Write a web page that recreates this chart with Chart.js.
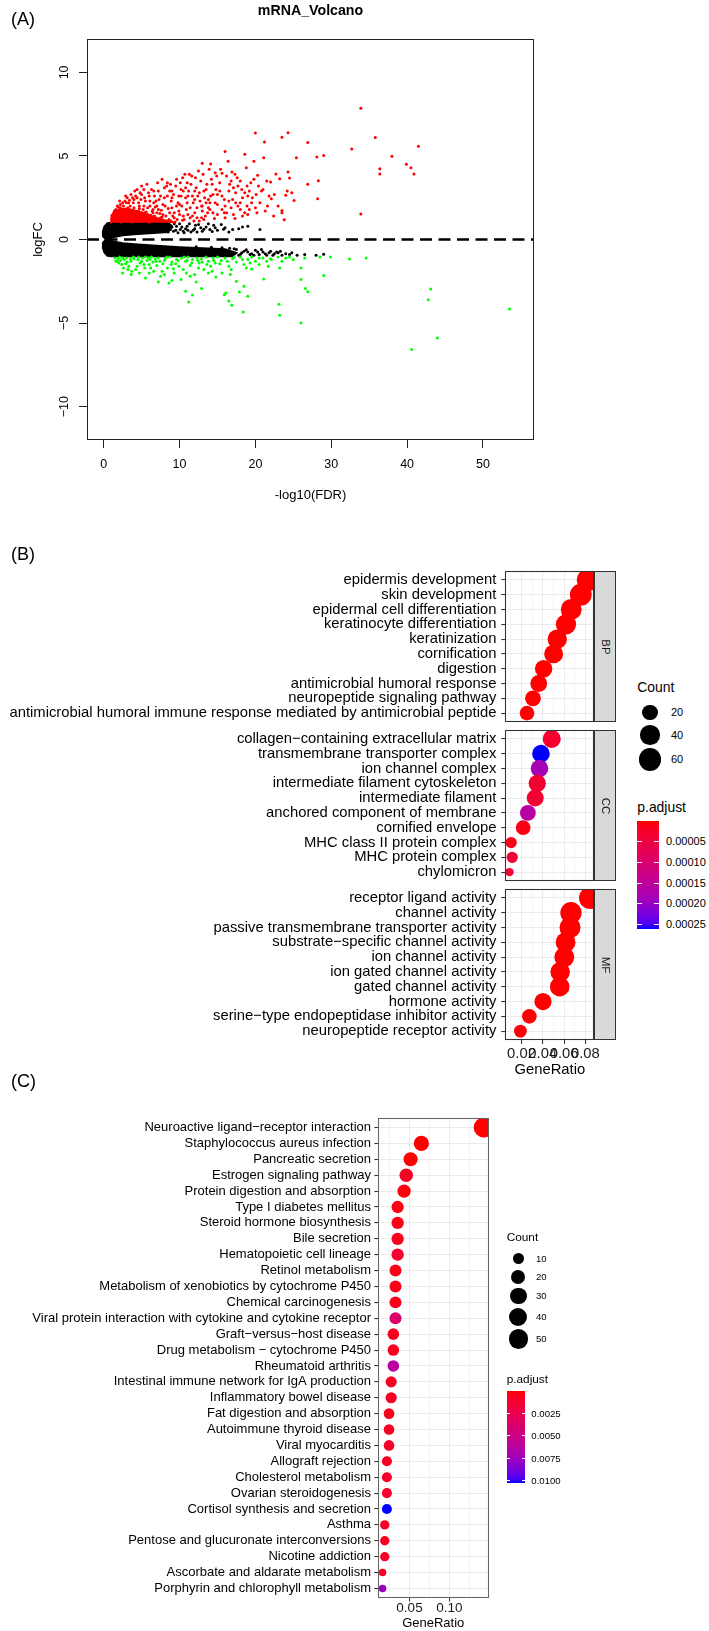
<!DOCTYPE html>
<html>
<head>
<meta charset="utf-8">
<title>Figure</title>
<script src="https://cdn.jsdelivr.net/npm/chart.js@4.4.1/dist/chart.umd.min.js"></script>
<style>
  html, body { margin:0; padding:0; background:#ffffff; }
  body { position:relative; width:709px; height:1631px; overflow:hidden; font-family:"Liberation Sans", Arial, Helvetica, sans-serif; }
  canvas { position:absolute; }
  .t { position:absolute; white-space:nowrap; line-height:1; }
  .strip { position:absolute; box-sizing:border-box; background:#d9d9d9; border:1px solid #333333; }
  .strip span { position:absolute; left:50%; top:50%; transform:translate(-50%,-50%) rotate(90deg); font-size:11.5px; color:#1a1a1a; line-height:1; white-space:nowrap; }
  .dot { position:absolute; border-radius:50%; background:#000; }
  .bar { position:absolute; }
  .tk { position:absolute; background:#ffffff; height:1px; }
</style>
</head>
<body>
<canvas id="cA" width="709" height="510" style="left:0;top:0"></canvas>
<canvas id="cBP" width="615" height="191" style="left:0;top:551px"></canvas>
<canvas id="cCC" width="615" height="191" style="left:0;top:710px"></canvas>
<canvas id="cMF" width="615" height="211" style="left:0;top:869px"></canvas>
<canvas id="cK" width="600" height="531" style="left:0;top:1100px"></canvas>
<script>
// ===================== DATA =====================
// ---- Panel A : volcano ----
const volcanoXTicks = [0, 10, 20, 30, 40, 50];
const volcanoYTicks = [-10, -5, 0, 5, 10];
const volcanoXRange = [-2.2, 56.73];
const volcanoYRange = [-12, 12];
// up-regulated (red) genes: [-log10(FDR), logFC]
const volcanoUp = [
 [33.9,7.86],[20.0,6.38],[24.3,6.39],[23.5,6.12],[35.8,6.1],[21.2,5.84],[26.9,5.8],[41.5,5.58],[32.7,5.42],[16.0,5.26],
 [18.6,5.1],[38.0,4.98],[21.1,4.9],[25.4,4.9],[28.1,4.94],[29.0,5.02],[36.4,4.24],[36.4,3.92],[39.9,4.5],[40.5,4.3],
 [40.9,3.92],[33.9,1.52],[13.0,4.56],[14.1,4.52],[16.4,4.68],[18.8,4.3],[19.8,4.68],[14.7,4.0],[15.6,3.96],[16.9,4.04],
 [17.3,3.9],[22.7,3.92],[24.3,4.04],[23.2,3.64],[20.3,3.84],[24.5,3.68],[26.9,3.3],[28.3,3.52],[22.0,3.44],[24.2,2.9],
 [24.8,2.8],[24.0,2.65],[25.1,2.34],[28.2,2.44],[22.1,2.44],[21.6,2.0],[23.5,1.74],[23.5,1.6],[23.8,1.18],[17.3,1.26],
 [5.2,1.1],[5.5,1.4],[5.8,1.9],[6.1,2.3],[6.4,1.2],[6.7,2.6],[7.0,1.6],[7.2,2.9],[7.5,1.3],[7.8,2.1],
 [8.0,3.1],[5.4,2.5],[6.0,1.05],[6.9,1.15],[7.6,1.75],[8.2,1.4],[5.9,2.8],[7.3,2.4],[6.5,1.8],[8.4,2.6],
 [8.6,1.2],[8.8,3.3],[9.0,1.9],[9.2,2.7],[9.4,1.05],[9.6,3.6],[9.8,2.2],[10.0,1.5],[10.2,3.0],[10.4,3.7],
 [10.6,1.2],[10.8,2.5],[11.0,3.4],[9.1,1.4],[10.3,2.0],[8.9,2.3],[9.7,1.2],[10.9,1.8],[11.2,2.9],[11.4,1.3],
 [11.6,3.8],[11.8,2.2],[12.0,1.6],[12.2,3.1],[12.4,2.6],[12.6,1.1],[12.8,3.5],[13.0,2.0],[13.2,2.9],[13.4,1.4],
 [13.6,3.3],[13.8,2.4],[14.0,1.8],[14.2,3.6],[14.4,2.7],[14.6,1.25],[14.8,3.0],[15.0,2.1],[12.5,4.1],[13.9,4.2],
 [11.3,3.9],[12.9,1.3],[15.3,3.4],[15.6,2.6],[15.9,1.6],[16.2,3.8],[16.5,2.3],[16.8,1.9],[17.1,3.1],[17.4,2.8],
 [17.7,2.0],[18.0,3.5],[18.3,2.5],[18.6,1.6],[18.9,3.2],[19.2,2.9],[19.5,2.2],[19.8,3.6],[20.1,2.7],[20.4,3.2],
 [16.0,1.3],[19.0,1.5],[20.6,2.2],[21.0,3.0],[21.5,3.5],[22.5,2.7],
 [1.2,1.1],[1.4,1.35],[1.6,1.55],[1.8,1.7],[2.0,1.2],[2.2,1.9],[2.4,1.45],[2.6,2.0],[2.8,1.15],[3.0,2.2],
 [3.2,1.7],[3.4,2.35],[3.6,1.3],[3.8,2.5],[4.0,1.9],[4.2,2.6],[4.4,1.1],[4.6,2.2],[4.8,2.8],[5.0,1.6],
 [2.1,1.6],[3.5,2.0],[4.5,1.5],[1.5,1.2],[2.7,1.7],[3.9,1.2],[4.9,2.4],[5.3,3.0],[4.1,2.9],[3.1,2.5],
 [2.5,2.2],[1.9,1.95],[1.3,1.25],[1.7,1.4],[2.3,1.3],[2.9,1.5],[3.3,1.15],[3.7,1.75],[4.3,1.35],[4.7,1.85],
 [5.1,1.25],[5.6,1.65],[6.2,1.45],[6.8,1.95],[7.4,1.55],[7.9,1.1],[8.5,1.85],[9.3,1.6],[9.9,2.6],[10.5,2.9],
 [11.1,1.5],[11.7,2.6],[12.3,1.9],[12.7,2.3],[13.3,2.5],[13.7,1.6],[2.2,2.1],[2.8,2.3],[3.6,2.7],[4.4,3.0],
 [5.0,3.2],[5.7,3.3],[6.3,3.0],[6.6,2.2],[7.1,3.4],[7.7,3.6],[8.3,3.2],[8.7,2.9],[9.5,3.2],[10.1,3.4],
 [10.7,3.9],[11.5,3.3],[12.1,3.7],[13.1,3.9],[13.5,3.0],[14.3,3.3],[14.9,3.8],[15.4,4.2],[16.6,3.3],[17.6,3.7],
 [18.2,3.0],[19.4,3.4],[4.0,2.4],[3.2,1.9],[2.0,1.5],[1.6,1.8],[6.0,2.6],[7.0,2.0],[8.0,2.5],[9.0,2.9],
 [10.0,2.1],[11.0,2.2],[12.0,2.9],[13.0,1.7],[14.0,2.2],[15.0,2.7],[16.0,2.0],[17.0,2.4],[18.0,1.8],[19.0,2.6],
 [20.0,1.9],[6.5,1.6],[5.3,2.0],[4.6,1.7],[3.8,1.4],[2.4,1.75],
 [1.4,1.7],[1.8,2.0],[2.1,2.3],[2.5,1.6],[2.9,2.6],[3.3,2.2],[3.5,1.55],[3.9,2.2],[4.2,1.25],[4.4,2.5],
 [4.7,2.0],[5.0,2.7],[5.2,1.8],[5.5,2.3],[5.8,1.5],[6.1,2.0],[6.3,1.3],[6.6,2.9],[6.9,2.3],[7.2,1.8],
 [7.5,2.6],[7.8,1.5],[8.1,2.0],[8.4,3.4],[8.7,1.6],[9.0,2.5],[9.3,1.3],[9.6,2.0],[9.9,1.7],[10.2,2.6],
 [10.5,1.4],[10.8,3.1],[11.1,2.6],[11.4,1.9],[11.7,1.4],[12.0,2.4],[12.3,1.3],[12.6,2.8],[12.9,2.0],[13.2,1.2],
 [13.5,2.2],[13.8,1.9],[14.1,2.6],[14.4,1.6],[14.7,2.2],[15.0,1.5],[15.3,2.9],[15.6,1.8],[15.9,2.4],[16.2,1.6],
 [16.5,2.9],[16.8,3.5],[17.1,1.5],[17.4,2.2],[17.7,3.2],[18.0,2.2],[18.3,1.4],[18.6,2.8],[18.9,2.0],[19.2,1.8],
 [19.6,2.5],[20.2,1.6],[20.8,2.9],[21.3,1.7],[21.8,2.6],[22.4,1.4],[23.0,2.0],[3.0,1.35],[2.6,1.25],[3.4,1.45],
 [4.8,1.2],[5.9,1.1],[6.7,1.4],[7.3,1.2],[8.9,1.1],[10.4,1.15],[11.9,1.1],[2.3,1.05],[3.7,1.05],[1.1,1.45],
 [1.3,1.55],[1.9,1.3],[4.1,1.65],[5.4,1.6],[6.4,1.7],[7.7,1.35]
];
// dense core of the red cloud (outline)
const upCore = [[1.05,1.0],[1.0,1.3],[1.3,1.6],[2.0,1.8],[3.0,1.85],[4.5,1.7],[6.0,1.45],[7.5,1.22],[9.0,1.05],[9.5,1.0]];
// down-regulated (green) genes
const volcanoDown = [
 [1.5,-1.1],[1.8,-1.3],[2.1,-1.05],[2.4,-1.5],[2.7,-1.2],[3.0,-1.1],[3.3,-1.6],[3.6,-1.3],[3.9,-1.05],[4.2,-1.8],
 [4.5,-1.2],[4.8,-1.4],[5.1,-1.1],[5.4,-1.7],[5.7,-1.25],[6.0,-1.5],[6.3,-1.05],[6.6,-1.9],[6.9,-1.3],[7.2,-1.1],
 [7.5,-2.2],[7.8,-1.45],[8.1,-1.15],[8.4,-1.7],[8.7,-1.05],[9.0,-1.35],[9.3,-2.0],[9.6,-1.2],[9.9,-1.6],[10.2,-1.1],
 [10.5,-1.8],[10.8,-1.3],[11.1,-1.05],[11.4,-1.55],[11.7,-1.2],[12.0,-2.1],[12.3,-1.1],[12.6,-1.4],[12.9,-1.15],[13.2,-1.8],
 [13.5,-1.05],[13.8,-1.3],[14.1,-1.6],[14.4,-1.1],[14.7,-1.4],[15.0,-1.05],[15.5,-1.25],[16.0,-1.1],[16.5,-1.6],[17.0,-1.15],
 [17.5,-1.35],[18.0,-1.05],[18.5,-1.5],[19.0,-1.2],[19.5,-1.05],[20.0,-1.3],[21.0,-1.1],[22.0,-1.15],[23.0,-1.05],[24.0,-1.1],
 [25.0,-1.2],[2.2,-1.25],[3.1,-1.35],[4.0,-1.15],[5.0,-1.3],[6.1,-1.2],[7.0,-1.55],[8.0,-1.25],[1.9,-1.15],[2.9,-1.45],
 [5.5,-1.05],[6.5,-1.35],[9.5,-1.45],[11.0,-1.25],[13.0,-1.35],[4.4,-1.6],[2.6,-1.7],[3.7,-1.9],
 [3.6,-2.1],[7.2,-2.54],[8.6,-2.6],[9.0,-2.45],[10.2,-2.4],[11.4,-2.2],[12.2,-2.55],[14.8,-2.24],[15.6,-2.0],[16.7,-2.1],
 [19.5,-1.76],[21.1,-2.36],[22.1,-1.2],[23.2,-1.7],[11.2,-3.74],[10.8,-3.1],[11.7,-3.32],[12.9,-2.94],[15.9,-3.3],[16.1,-3.2],
 [16.5,-3.68],[16.9,-3.94],[18.4,-4.34],[17.9,-3.14],[19.0,-3.4],[18.5,-2.8],[23.1,-3.88],[23.2,-4.54],[26.0,-5.0],[26.0,-2.4],
 [26.0,-1.7],[26.6,-2.94],[26.9,-3.12],[29.0,-2.16],[32.4,-1.16],[34.6,-1.1],[29.9,-1.04],[28.5,-1.05],[43.1,-2.96],[42.8,-3.6],
 [44.0,-5.9],[40.6,-6.58],[53.5,-4.16],[5.5,-2.3],[6.0,-2.0],[8.0,-2.1],[13.8,-2.0],[17.5,-2.5],[20.5,-1.5],
 [2.0,-1.4],[2.5,-1.1],[3.5,-1.15],[4.6,-1.05],[5.3,-1.5],[5.9,-1.1],[6.8,-1.15],[7.4,-1.3],[8.3,-1.05],[8.9,-1.5],
 [9.8,-1.25],[10.6,-1.05],[11.6,-1.4],[12.4,-1.25],[13.6,-1.5],[14.5,-1.25],[15.3,-1.45],[16.3,-1.3],[17.2,-1.05],[18.3,-1.2],
 [19.3,-1.4],[20.5,-1.1],[21.5,-1.3],[23.5,-1.3],[24.5,-1.05],[26.5,-1.1],[3.2,-1.8],[4.7,-2.0],[6.2,-1.7],[7.7,-1.9],
 [9.2,-1.75],[10.9,-2.0],[12.5,-1.7],[14.3,-1.9],[16.8,-1.8],[18.8,-1.7],[21.7,-1.6],[2.5,-2.0],[1.6,-1.3]
];
// not significant (black) genes, sparse parts
const volcanoNS = [
 [7.5,0.6],[8.0,0.9],[8.5,0.45],[9.0,0.75],[9.5,0.55],[10.0,0.95],[10.5,0.5],[11.0,0.8],[11.5,0.45],[12.0,0.65],
 [12.5,0.9],[13.0,0.5],[13.5,0.75],[14.0,0.6],[14.5,0.85],[15.0,0.55],[16.0,0.7],[17.0,0.6],[17.8,0.65],[19.0,0.8],
 [20.6,0.6],[9.8,0.4],[10.8,0.65],[12.3,0.45],[13.8,0.95],[9.3,0.95],[11.3,0.95],[12.8,0.7],[15.5,0.9],[16.5,0.45],
 [10.3,0.75],[11.8,0.55],[14.3,0.48],[9.6,0.8],[10.6,0.4],[8.8,0.6],[8.3,0.9],[9.2,0.5],[10.1,0.6],[11.1,0.55],
 [12.1,0.85],[13.2,0.62],[14.7,0.7],[15.8,0.62],[18.3,0.75],
 [17.5,-0.6],[18.0,-0.9],[18.5,-0.7],[19.0,-0.75],[19.5,-0.85],[20.0,-0.65],[20.5,-0.9],[21.0,-0.75],[21.5,-0.95],[22.0,-0.7],
 [22.5,-0.85],[23.0,-0.8],[23.5,-0.95],[24.0,-0.85],[24.5,-0.9],[25.5,-0.95],[26.5,-0.9],[28.0,-0.95],[29.0,-0.88],[18.2,-0.8],
 [19.3,-0.9],[20.3,-0.75],[21.3,-0.85],[22.3,-0.95],[23.3,-0.7],[17.8,-0.95],[19.8,-0.95],[20.8,-0.6],[21.8,-0.8],[22.8,-0.75],
 [24.8,-0.8],[18.8,-0.62],[17.2,-0.55],[16.6,-0.52],[15.6,-0.5],[14.2,-0.46],[12.2,-0.44]
];
// solid parts of the black cloud (outlines)
const nsCoreUpper = [[0.3,0.0],[-0.1,0.2],[-0.1,0.5],[0.1,0.78],[0.5,0.98],[1.0,1.0],[8.5,1.0],[9.0,0.8],[8.5,0.45],[6.0,0.37],[4.0,0.31],[2.5,0.25],[1.6,0.17],[1.0,0.08],[0.6,0.02]];
const nsCoreLower = [[0.3,0.0],[-0.1,-0.2],[-0.1,-0.5],[0.1,-0.78],[0.5,-0.98],[1.0,-1.0],[17.0,-1.0],[17.5,-0.8],[16.0,-0.58],[13.0,-0.52],[10.0,-0.46],[7.0,-0.38],[4.5,-0.3],[2.5,-0.22],[1.4,-0.13],[0.8,-0.05]];

// ---- Panel B : GO dotplot ----
const bpTerms = ["epidermis development","skin development","epidermal cell differentiation","keratinocyte differentiation","keratinization","cornification","digestion","antimicrobial humoral response","neuropeptide signaling pathway","antimicrobial humoral immune response mediated by antimicrobial peptide"];
const bpGeneRatio = [0.0826,0.0757,0.0667,0.0618,0.0536,0.0502,0.0408,0.0362,0.0308,0.0252];
const bpCount = [60,54,48,44,39,36,29,26,22,18];
const bpPadj = [1e-14,1e-13,2e-12,5e-12,1e-11,2e-11,3e-10,1e-9,1e-8,1e-7];

const ccTerms = ["collagen−containing extracellular matrix","transmembrane transporter complex","ion channel complex","intermediate filament cytoskeleton","intermediate filament","anchored component of membrane","cornified envelope","MHC class II protein complex","MHC protein complex","chylomicron"];
const ccGeneRatio = [0.0484,0.0383,0.0369,0.0348,0.0329,0.0260,0.0216,0.0103,0.0113,0.0087];
const ccCount = [32,30,29,28,27,22,18,10,10,8];
const ccPadj = [3.1e-5,2.62e-4,1.83e-4,3.2e-5,3.4e-5,1.62e-4,1.0e-5,1.3e-5,4.2e-5,3.1e-5];

const mfTerms = ["receptor ligand activity","channel activity","passive transmembrane transporter activity","substrate−specific channel activity","ion channel activity","ion gated channel activity","gated channel activity","hormone activity","serine−type endopeptidase inhibitor activity","neuropeptide receptor activity"];
const mfGeneRatio = [0.0845,0.0665,0.0656,0.0614,0.0602,0.0563,0.0559,0.0402,0.0274,0.0190];
const mfCount = [57,51,49,42,42,40,40,28,18,13];
const mfPadj = [1e-12,2e-10,2e-10,5e-10,5e-10,1e-9,1e-9,2e-7,1e-6,5e-6];

const goRatioMajor = [0.02, 0.04, 0.06, 0.08];
const goRatioMinor = [0.01, 0.03, 0.05, 0.07];
const goRatioRange = [0.0048, 0.0884];
const goCountBreaks = [20, 40, 60];
const goPadjBreaks = [0.00005, 0.00010, 0.00015, 0.00020, 0.00025];
const goPadjLabels = ["0.00005","0.00010","0.00015","0.00020","0.00025"];
const goFacets = ["BP","CC","MF"];

// ---- Panel C : KEGG dotplot ----
const keggTerms = ["Neuroactive ligand−receptor interaction","Staphylococcus aureus infection","Pancreatic secretion","Estrogen signaling pathway","Protein digestion and absorption","Type I diabetes mellitus","Steroid hormone biosynthesis","Bile secretion","Hematopoietic cell lineage","Retinol metabolism","Metabolism of xenobiotics by cytochrome P450","Chemical carcinogenesis","Viral protein interaction with cytokine and cytokine receptor","Graft−versus−host disease","Drug metabolism − cytochrome P450","Rheumatoid arthritis","Intestinal immune network for IgA production","Inflammatory bowel disease","Fat digestion and absorption","Autoimmune thyroid disease","Viral myocarditis","Allograft rejection","Cholesterol metabolism","Ovarian steroidogenesis","Cortisol synthesis and secretion","Asthma","Pentose and glucuronate interconversions","Nicotine addiction","Ascorbate and aldarate metabolism","Porphyrin and chlorophyll metabolism"];
const keggGeneRatio = [0.1432,0.0649,0.0514,0.0459,0.0432,0.0351,0.0351,0.0351,0.0351,0.0324,0.0324,0.0324,0.0324,0.0297,0.0297,0.0297,0.0270,0.0270,0.0243,0.0243,0.0243,0.0216,0.0216,0.0216,0.0216,0.0189,0.0189,0.0189,0.0162,0.0162];
const keggCount = [53,24,19,17,16,13,13,13,13,12,12,12,12,11,11,11,10,10,9,9,9,8,8,8,8,7,7,7,6,6];
const keggPadj = [1e-10,1e-6,2e-5,0.0009,0.0002,0.0003,0.0004,0.0006,0.0012,0.0004,0.0004,0.0005,0.0038,0.0006,0.0007,0.0062,0.0007,0.0009,0.0005,0.0008,0.0011,0.0008,0.0011,0.0012,0.0103,0.0009,0.0007,0.0008,0.0007,0.0077];
const keggRatioMajor = [0.05, 0.10];
const keggRatioMinor = [0.025, 0.075, 0.125];
const keggRatioRange = [0.01018, 0.1495];
const keggCountBreaks = [10, 20, 30, 40, 50];
const keggPadjBreaks = [0.0025, 0.0050, 0.0075, 0.0100];
const keggPadjLabels = ["0.0025","0.0050","0.0075","0.0100"];

// ===================== HELPERS =====================
const FONT = '"Liberation Sans", Arial, Helvetica, sans-serif';
Chart.defaults.font.family = FONT;
Chart.defaults.color = '#000';

const framePlugin = {
  id: 'frame',
  afterDatasetsDraw(chart, args, opts) {
    if (!opts || !opts.color) return;
    const a = chart.chartArea, ctx = chart.ctx;
    ctx.save();
    ctx.strokeStyle = opts.color; ctx.lineWidth = opts.width || 1;
    const l = Math.round(a.left) + 0.5, t = Math.round(a.top) + 0.5;
    const r = Math.round(a.right) - 0.5, b = Math.round(a.bottom) - 0.5;
    ctx.strokeRect(l, t, r - l, b - t);
    ctx.restore();
  }
};
Chart.register(framePlugin);

// CIELAB gradient red -> blue (as ggplot's scale_color_continuous(low="red", high="blue"))
function lin(c){ c/=255; return c<=0.04045? c/12.92 : Math.pow((c+0.055)/1.055,2.4); }
function rgb2lab(r,g,b){
  const R=lin(r),G=lin(g),B=lin(b);
  const X=(R*0.4124+G*0.3576+B*0.1805)/0.95047, Y=(R*0.2126+G*0.7152+B*0.0722), Z=(R*0.0193+G*0.1192+B*0.9505)/1.08883;
  const f=t=> t>0.008856? Math.cbrt(t) : 7.787*t+16/116;
  const fx=f(X),fy=f(Y),fz=f(Z);
  return [116*fy-16, 500*(fx-fy), 200*(fy-fz)];
}
function lab2rgb(L,a,b){
  const fy=(L+16)/116, fx=fy+a/500, fz=fy-b/200;
  const fi=t=> t*t*t>0.008856? t*t*t : (t-16/116)/7.787;
  const X=fi(fx)*0.95047, Y=fi(fy), Z=fi(fz)*1.08883;
  const R=3.2406*X-1.5372*Y-0.4986*Z, G=-0.9689*X+1.8758*Y+0.0415*Z, B=0.0557*X-0.2040*Y+1.0570*Z;
  const g=c=>{ c=Math.max(0,Math.min(1,c)); return Math.round(255*(c<=0.0031308? 12.92*c : 1.055*Math.pow(c,1/2.4)-0.055)); };
  return 'rgb('+g(R)+','+g(G)+','+g(B)+')';
}
const LAB_LO = rgb2lab(255,0,0), LAB_HI = rgb2lab(0,0,255);
function ramp(t){
  t=Math.max(0,Math.min(1,t));
  return lab2rgb(LAB_LO[0]+(LAB_HI[0]-LAB_LO[0])*t, LAB_LO[1]+(LAB_HI[1]-LAB_LO[1])*t, LAB_LO[2]+(LAB_HI[2]-LAB_LO[2])*t);
}
// size scale (area palette, range 3..8)
function sizePx(c, cmin, cmax, k){ return k*(3 + 5*Math.sqrt(Math.max(0,(c-cmin)/(cmax-cmin)))); }

function txt(s, x, cy, fs, o){
  o = o || {};
  const d=document.createElement('div'); d.className='t'; d.textContent=s;
  d.style.fontSize=fs+'px';
  d.style.top=(cy-(o.k!==undefined?o.k:0.49)*fs)+'px';
  if(o.align==='center'){ d.style.left=(x-200)+'px'; d.style.width='400px'; d.style.textAlign='center'; }
  else d.style.left=x+'px';
  if(o.bold) d.style.fontWeight='bold';
  d.style.color=o.color||'#000';
  document.body.appendChild(d);
}
function xy(arr){ return arr.map(p=>({x:p[0], y:p[1]})); }

// ===================== PANEL A =====================
txt('(A)', 11, 20.7, 18, {k:0.586});
txt('mRNA_Volcano', 310.5, 9.5, 14.2, {align:'center', bold:true});

new Chart(document.getElementById('cA'), {
  type:'scatter',
  data:{ datasets:[
    { type:'line', data:[{x:volcanoXRange[0],y:0},{x:volcanoXRange[1],y:0}], borderColor:'#000', borderWidth:2.6, borderDash:[12,6.5], pointRadius:0, fill:false, clip:0 },
    { data:xy(volcanoDown), backgroundColor:'#00ff00', borderWidth:0, pointRadius:1.5, clip:0 },
    { data:xy(volcanoUp), backgroundColor:'#ff0000', borderWidth:0, pointRadius:1.5, clip:0 },
    { type:'line', data:xy(upCore), borderColor:'#ff0000', backgroundColor:'#ff0000', borderWidth:2, pointRadius:0, fill:'shape', tension:0, clip:0 },
    { data:xy(volcanoNS), backgroundColor:'#000', borderWidth:0, pointRadius:1.5, clip:0 },
    { type:'line', data:xy(nsCoreUpper), borderColor:'#000', backgroundColor:'#000', borderWidth:2, pointRadius:0, fill:'shape', tension:0, clip:0 },
    { type:'line', data:xy(nsCoreLower), borderColor:'#000', backgroundColor:'#000', borderWidth:2, pointRadius:0, fill:'shape', tension:0, clip:0 }
  ]},
  options:{
    responsive:false, animation:false, events:[], devicePixelRatio:1,
    layout:{ padding:{ left:0, top:39, right:175, bottom:0 } },
    plugins:{ legend:{display:false}, tooltip:{enabled:false}, frame:{color:'#222', width:1} },
    scales:{
      x:{ type:'linear', min:volcanoXRange[0], max:volcanoXRange[1],
        afterBuildTicks:s=>{ s.ticks=volcanoXTicks.map(v=>({value:v})); },
        afterFit:s=>{ s.height=70; },
        ticks:{ font:{size:12.5, lineHeight:1}, color:'#000', padding:10, maxRotation:0, minRotation:0, autoSkip:false, callback:v=>String(v) },
        grid:{ drawOnChartArea:false, drawTicks:true, tickLength:8, tickColor:'#222', tickWidth:1 },
        border:{ display:false },
        title:{ display:true, text:'-log10(FDR)', font:{size:13}, color:'#000', padding:{top:0, bottom:7.2} }
      },
      y:{ type:'linear', min:volcanoYRange[0], max:volcanoYRange[1],
        afterBuildTicks:s=>{ s.ticks=volcanoYTicks.map(v=>({value:v})); },
        afterFit:s=>{ s.width=87; },
        ticks:{ font:{size:12.5, lineHeight:1}, color:'#000', padding:4, minRotation:90, maxRotation:90, crossAlign:'center', autoSkip:false, callback:v=> v<0 ? '−'+Math.abs(v) : String(v) },
        grid:{ drawOnChartArea:false, drawTicks:true, tickLength:8, tickColor:'#222', tickWidth:1 },
        border:{ display:false },
        title:{ display:true, text:'logFC', font:{size:13}, color:'#000', padding:{top:30.7, bottom:0} }
      }
    }
  }
});

// ===================== PANEL B =====================
txt('(B)', 11, 556, 18, {k:0.586});
const goAllCount = bpCount.concat(ccCount, mfCount);
const goAllPadj = bpPadj.concat(ccPadj, mfPadj);
const goCmin = Math.min(...goAllCount), goCmax = Math.max(...goAllCount);
const goPmin = Math.min(...goAllPadj), goPmax = Math.max(...goAllPadj);
const GO_K = 2.825;
const goDiam = c => sizePx(c, goCmin, goCmax, GO_K);
const goColor = p => ramp((p-goPmin)/(goPmax-goPmin));

function goFacet(id, terms, ratio, count, padj, withAxis, facetTop, facetBottom, label){
  const cv = document.getElementById(id);
  const W = cv.width;
  const top = parseFloat(cv.style.top);
  const xH = withAxis ? 40 : 20;
  new Chart(cv, {
    type:'bubble',
    data:{ datasets:[{ data: terms.map((t,i)=>({x:ratio[i], y:i+1, r:goDiam(count[i])/2})),
      backgroundColor: padj.map(goColor), borderWidth:0, hoverBorderWidth:0, clip:0 }]},
    options:{
      responsive:false, animation:false, events:[], devicePixelRatio:1,
      layout:{ padding:{ left:0, top:facetTop-top, right:W-594.3, bottom:0 } },
      plugins:{ legend:{display:false}, tooltip:{enabled:false}, frame:{color:'#333', width:1.07} },
      scales:{
        x:{ type:'linear', min:goRatioRange[0], max:goRatioRange[1],
          afterBuildTicks:s=>{ s.ticks=goRatioMinor.concat(goRatioMajor).sort((a,b)=>a-b).map(v=>({value:v})); },
          afterFit:s=>{ s.height=xH; },
          ticks:{ display:withAxis, font:{size:14.8, lineHeight:1}, color:'#1a1a1a', padding:2.6, maxRotation:0, minRotation:0, autoSkip:false,
            callback:v=> goRatioMajor.includes(v) ? v.toFixed(2) : '' },
          grid:{ color:'#ebebeb', lineWidth:c=> goRatioMajor.includes(c.tick.value)?1.07:0.53, drawTicks:withAxis, tickLength:4,
            tickColor:c=> goRatioMajor.includes(c.tick.value)?'#333':'rgba(0,0,0,0)', tickWidth:1.07 },
          border:{ display:false },
          title:{ display:withAxis, text:'GeneRatio', font:{size:14.8}, color:'#000', padding:{top:0, bottom:1.1} }
        },
        y:{ type:'linear', min:0.4, max:terms.length+0.6, reverse:true,
          afterBuildTicks:s=>{ s.ticks=terms.map((t,i)=>({value:i+1})); },
          afterFit:s=>{ s.width=505.3; },
          ticks:{ font:{size:14.8, lineHeight:1}, color:'#000', padding:4.9, autoSkip:false, callback:v=>terms[Math.round(v)-1] },
          grid:{ color:'#ebebeb', lineWidth:1.07, tickLength:4, tickColor:'#333', tickWidth:1.07 },
          border:{ display:false }
        }
      }
    }
  });
  const st=document.createElement('div'); st.className='strip';
  st.style.left='594.3px'; st.style.width='21.7px'; st.style.top=facetTop+'px'; st.style.height=(facetBottom-facetTop)+'px';
  const sp=document.createElement('span'); sp.textContent=label; st.appendChild(sp);
  document.body.appendChild(st);
}
goFacet('cBP', bpTerms, bpGeneRatio, bpCount, bpPadj, false, 571, 722, goFacets[0]);
goFacet('cCC', ccTerms, ccGeneRatio, ccCount, ccPadj, false, 730, 881, goFacets[1]);
goFacet('cMF', mfTerms, mfGeneRatio, mfCount, mfPadj, true, 889, 1040, goFacets[2]);

function sizeLegend(x0, titleY, titleFs, cx, ys, breaks, diamFn, labX, labFs){
  txt('Count', x0, titleY, titleFs);
  breaks.forEach((b,i)=>{
    const d=diamFn(b); const e=document.createElement('div'); e.className='dot';
    e.style.width=d+'px'; e.style.height=d+'px'; e.style.left=(cx-d/2)+'px'; e.style.top=(ys[i]-d/2)+'px';
    document.body.appendChild(e);
    txt(String(b), labX, ys[i], labFs);
  });
}
function colorLegend(x0, titleY, titleFs, barW, barTop, barBot, pmin, pmax, breaks, labels, labX, labFs){
  txt('p.adjust', x0, titleY, titleFs);
  const bar=document.createElement('div'); bar.className='bar';
  const stops=[]; for(let i=0;i<=30;i++){ stops.push(ramp(i/30)+' '+(i/30*100).toFixed(2)+'%'); }
  bar.style.left=x0+'px'; bar.style.top=barTop+'px'; bar.style.width=barW+'px'; bar.style.height=(barBot-barTop)+'px';
  bar.style.background='linear-gradient(to bottom,'+stops.join(',')+')';
  document.body.appendChild(bar);
  breaks.forEach((b,i)=>{
    const y=barTop+(b-pmin)/(pmax-pmin)*(barBot-barTop);
    [x0, x0+barW-barW/5].forEach(xx=>{ const tk=document.createElement('div'); tk.className='tk';
      tk.style.left=xx+'px'; tk.style.width=(barW/5)+'px'; tk.style.top=(y-0.5)+'px'; document.body.appendChild(tk); });
    txt(labels[i], labX, y, labFs);
  });
}
sizeLegend(637.3, 688.3, 13.9, 650, [712.3, 735, 759.3], goCountBreaks, goDiam, 671, 11);
colorLegend(637.3, 808, 13.9, 21.4, 821, 929.3, goPmin, goPmax, goPadjBreaks, goPadjLabels, 666, 11);

// ===================== PANEL C =====================
txt('(C)', 11, 1082.7, 18, {k:0.586});
const kCmin = Math.min(...keggCount), kCmax = Math.max(...keggCount);
const kPmin = Math.min(...keggPadj), kPmax = Math.max(...keggPadj);
const K_K = 2.5;
const kDiam = c => sizePx(c, kCmin, kCmax, K_K);
const kColor = p => ramp((p-kPmin)/(kPmax-kPmin));
(function(){
  const cv=document.getElementById('cK'); const W=cv.width; const top=parseFloat(cv.style.top);
  new Chart(cv, {
    type:'bubble',
    data:{ datasets:[{ data: keggTerms.map((t,i)=>({x:keggGeneRatio[i], y:i+1, r:kDiam(keggCount[i])/2})),
      backgroundColor: keggPadj.map(kColor), borderWidth:0, hoverBorderWidth:0, clip:0 }]},
    options:{
      responsive:false, animation:false, events:[], devicePixelRatio:1,
      layout:{ padding:{ left:0, top:1118-top, right:W-488.7, bottom:0 } },
      plugins:{ legend:{display:false}, tooltip:{enabled:false}, frame:{color:'#666', width:1.07} },
      scales:{
        x:{ type:'linear', min:keggRatioRange[0], max:keggRatioRange[1],
          afterBuildTicks:s=>{ s.ticks=keggRatioMinor.concat(keggRatioMajor).sort((a,b)=>a-b).map(v=>({value:v})); },
          afterFit:s=>{ s.height=33; },
          ticks:{ font:{size:13.5, lineHeight:1}, color:'#1a1a1a', padding:0.3, maxRotation:0, minRotation:0, autoSkip:false,
            callback:v=> keggRatioMajor.includes(v) ? v.toFixed(2) : '' },
          grid:{ color:'#ebebeb', lineWidth:c=> keggRatioMajor.includes(c.tick.value)?1.07:0.53, tickLength:3.5,
            tickColor:c=> keggRatioMajor.includes(c.tick.value)?'#333':'rgba(0,0,0,0)', tickWidth:1.07 },
          border:{ display:false },
          title:{ display:true, text:'GeneRatio', font:{size:13}, color:'#000', padding:{top:0, bottom:0} }
        },
        y:{ type:'linear', min:0.4, max:keggTerms.length+0.6, reverse:true,
          afterBuildTicks:s=>{ s.ticks=keggTerms.map((t,i)=>({value:i+1})); },
          afterFit:s=>{ s.width=377.8; },
          ticks:{ font:{size:13, lineHeight:1}, color:'#000', padding:3.3, autoSkip:false, callback:v=>keggTerms[Math.round(v)-1] },
          grid:{ color:'#ebebeb', lineWidth:1.07, tickLength:3.5, tickColor:'#333', tickWidth:1.07 },
          border:{ display:false }
        }
      }
    }
  });
})();
sizeLegend(506.7, 1237.3, 11.8, 518.3, [1258.3, 1276.7, 1296, 1316.7, 1339], keggCountBreaks, kDiam, 536, 9.6);
colorLegend(506.7, 1380, 11.8, 18.6, 1391, 1483.3, kPmin, kPmax, keggPadjBreaks, keggPadjLabels, 531.3, 9.6);
</script>
</body>
</html>
